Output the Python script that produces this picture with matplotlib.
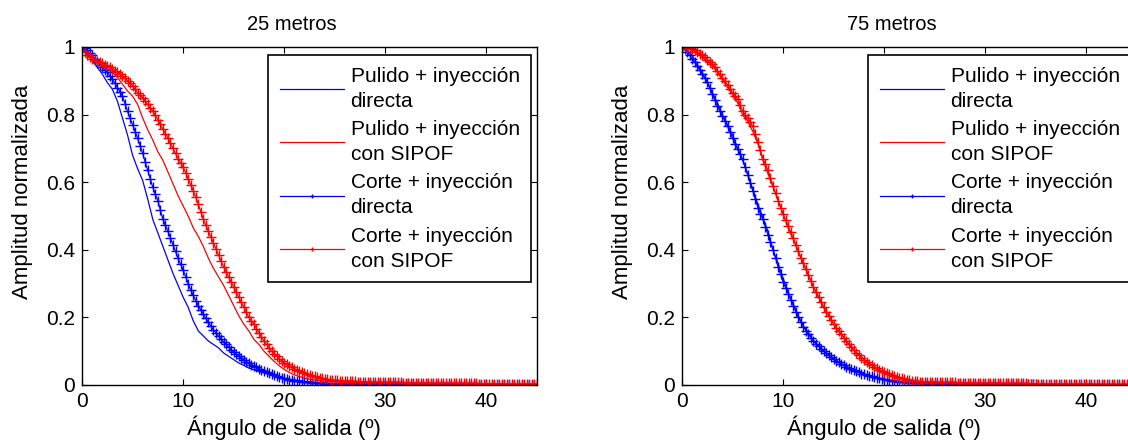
import matplotlib
matplotlib.use("Agg")
import matplotlib.pyplot as plt
import numpy as np

plt.rcParams["font.family"] = ["Liberation Sans", "DejaVu Sans"]

# Angle grids (degrees): polished-end profiles were sampled every 0.5 deg,
# cut-end profiles every 0.25 deg
angulo = np.arange(0, 45.25, 0.5)
angulo_fino = np.arange(0, 45.125, 0.25)

# ── 25 metros ────────────────────────────────────────────────────────────────
pulido_directa_25 = [
    1.000, 0.985, 0.960, 0.940, 0.920, 0.895, 0.875, 0.840, 0.790, 0.740,
    0.680, 0.640, 0.605, 0.550, 0.490, 0.450, 0.410, 0.370, 0.330, 0.295,
    0.260, 0.230, 0.190, 0.160, 0.145, 0.130, 0.120, 0.110, 0.095, 0.085,
    0.075, 0.065, 0.058, 0.050, 0.045, 0.040, 0.036, 0.032, 0.028, 0.024,
    0.020, 0.017, 0.015, 0.013, 0.011, 0.010, 0.008, 0.007, 0.006, 0.005,
    0.005, 0.004, 0.004, 0.004, 0.003, 0.003, 0.003, 0.003, 0.002, 0.002,
    0.002, 0.002, 0.002, 0.002, 0.002, 0.002, 0.002, 0.001, 0.001, 0.001,
    0.001, 0.001, 0.001, 0.001, 0.001, 0.001, 0.001, 0.001, 0.001, 0.001,
    0.001, 0.001, 0.001, 0.001, 0.001, 0.001, 0.001, 0.001, 0.001, 0.001,
    0.001,
]
pulido_sipof_25 = [
    1.000, 0.980, 0.965, 0.955, 0.945, 0.935, 0.925, 0.910, 0.890, 0.870,
    0.855, 0.830, 0.790, 0.755, 0.725, 0.690, 0.665, 0.630, 0.595, 0.560,
    0.530, 0.500, 0.465, 0.440, 0.410, 0.375, 0.345, 0.320, 0.295, 0.265,
    0.235, 0.205, 0.180, 0.160, 0.135, 0.120, 0.100, 0.085, 0.070, 0.057,
    0.046, 0.037, 0.030, 0.025, 0.020, 0.017, 0.015, 0.013, 0.012, 0.011,
    0.010, 0.009, 0.008, 0.008, 0.007, 0.007, 0.006, 0.006, 0.006, 0.005,
    0.005, 0.005, 0.004, 0.004, 0.004, 0.004, 0.003, 0.003, 0.003, 0.003,
    0.003, 0.003, 0.003, 0.002, 0.002, 0.002, 0.002, 0.002, 0.002, 0.002,
    0.002, 0.002, 0.002, 0.002, 0.002, 0.002, 0.002, 0.002, 0.002, 0.002,
    0.002,
]
corte_directa_25 = [
    1.000, 0.996, 0.990, 0.982, 0.975, 0.965, 0.955, 0.948, 0.940, 0.932,
    0.925, 0.915, 0.905, 0.893, 0.880, 0.868, 0.855, 0.832, 0.810, 0.790,
    0.770, 0.750, 0.730, 0.708, 0.685, 0.660, 0.635, 0.610, 0.585, 0.565,
    0.545, 0.518, 0.490, 0.472, 0.455, 0.435, 0.415, 0.395, 0.375, 0.357,
    0.340, 0.320, 0.300, 0.282, 0.265, 0.250, 0.235, 0.222, 0.210, 0.197,
    0.185, 0.174, 0.163, 0.154, 0.145, 0.136, 0.128, 0.120, 0.112, 0.104,
    0.097, 0.091, 0.085, 0.079, 0.074, 0.069, 0.064, 0.060, 0.056, 0.052,
    0.048, 0.044, 0.041, 0.038, 0.035, 0.032, 0.029, 0.026, 0.024, 0.022,
    0.020, 0.018, 0.016, 0.014, 0.013, 0.012, 0.011, 0.010, 0.009, 0.009,
    0.008, 0.007, 0.007, 0.006, 0.006, 0.005, 0.005, 0.004, 0.004, 0.004,
    0.004, 0.004, 0.004, 0.004, 0.004, 0.004, 0.004, 0.003, 0.003, 0.003,
    0.003, 0.003, 0.003, 0.003, 0.003, 0.003, 0.003, 0.003, 0.003, 0.003,
    0.003, 0.002, 0.002, 0.002, 0.002, 0.002, 0.002, 0.002, 0.002, 0.002,
    0.002, 0.002, 0.002, 0.002, 0.002, 0.002, 0.002, 0.002, 0.002, 0.002,
    0.002, 0.001, 0.001, 0.001, 0.001, 0.001, 0.001, 0.001, 0.001, 0.001,
    0.001, 0.001, 0.001, 0.001, 0.001, 0.001, 0.001, 0.001, 0.001, 0.001,
    0.001, 0.001, 0.001, 0.001, 0.001, 0.001, 0.001, 0.001, 0.001, 0.001,
    0.001, 0.001, 0.001, 0.001, 0.001, 0.001, 0.001, 0.001, 0.001, 0.001,
    0.001,
]
corte_sipof_25 = [
    1.000, 0.985, 0.975, 0.970, 0.965, 0.961, 0.958, 0.955, 0.952, 0.948,
    0.945, 0.940, 0.935, 0.930, 0.925, 0.920, 0.915, 0.908, 0.900, 0.893,
    0.885, 0.875, 0.865, 0.858, 0.850, 0.840, 0.830, 0.820, 0.810, 0.798,
    0.785, 0.771, 0.757, 0.744, 0.730, 0.715, 0.700, 0.685, 0.670, 0.658,
    0.645, 0.628, 0.610, 0.593, 0.575, 0.555, 0.535, 0.512, 0.490, 0.472,
    0.455, 0.438, 0.420, 0.402, 0.385, 0.367, 0.350, 0.335, 0.320, 0.305,
    0.290, 0.275, 0.260, 0.245, 0.230, 0.215, 0.200, 0.190, 0.180, 0.167,
    0.155, 0.142, 0.130, 0.120, 0.110, 0.101, 0.093, 0.085, 0.078, 0.072,
    0.066, 0.061, 0.056, 0.052, 0.048, 0.045, 0.042, 0.039, 0.036, 0.033,
    0.030, 0.028, 0.026, 0.024, 0.022, 0.020, 0.019, 0.017, 0.016, 0.015,
    0.014, 0.014, 0.013, 0.013, 0.012, 0.012, 0.011, 0.011, 0.011, 0.010,
    0.010, 0.010, 0.010, 0.009, 0.009, 0.009, 0.009, 0.008, 0.008, 0.008,
    0.008, 0.008, 0.008, 0.008, 0.008, 0.008, 0.008, 0.007, 0.007, 0.007,
    0.007, 0.007, 0.007, 0.007, 0.007, 0.007, 0.007, 0.006, 0.006, 0.006,
    0.006, 0.006, 0.006, 0.006, 0.006, 0.006, 0.006, 0.005, 0.005, 0.005,
    0.005, 0.005, 0.005, 0.005, 0.005, 0.005, 0.005, 0.004, 0.004, 0.004,
    0.004, 0.004, 0.004, 0.004, 0.004, 0.004, 0.004, 0.003, 0.003, 0.003,
    0.003, 0.003, 0.003, 0.003, 0.003, 0.003, 0.003, 0.003, 0.003, 0.003,
    0.003,
]

# ── 75 metros ────────────────────────────────────────────────────────────────
pulido_directa_75 = [
    1.000, 0.990, 0.975, 0.950, 0.925, 0.895, 0.865, 0.835, 0.800, 0.770,
    0.740, 0.700, 0.665, 0.625, 0.580, 0.535, 0.495, 0.455, 0.400, 0.360,
    0.315, 0.275, 0.240, 0.205, 0.175, 0.155, 0.132, 0.117, 0.102, 0.090,
    0.078, 0.068, 0.059, 0.051, 0.044, 0.038, 0.033, 0.028, 0.024, 0.020,
    0.017, 0.014, 0.012, 0.010, 0.008, 0.007, 0.006, 0.005, 0.005, 0.004,
    0.004, 0.003, 0.003, 0.003, 0.003, 0.002, 0.002, 0.002, 0.002, 0.002,
    0.002, 0.002, 0.002, 0.001, 0.001, 0.001, 0.001, 0.001, 0.001, 0.001,
    0.001, 0.001, 0.001, 0.001, 0.001, 0.001, 0.001, 0.001, 0.001, 0.001,
    0.001, 0.001, 0.001, 0.001, 0.001, 0.001, 0.001, 0.001, 0.001, 0.001,
    0.001,
]
pulido_sipof_75 = [
    1.000, 0.998, 0.993, 0.982, 0.970, 0.958, 0.945, 0.925, 0.903, 0.880,
    0.860, 0.835, 0.800, 0.780, 0.750, 0.715, 0.665, 0.625, 0.585, 0.550,
    0.505, 0.465, 0.430, 0.395, 0.360, 0.325, 0.290, 0.262, 0.232, 0.207,
    0.182, 0.160, 0.140, 0.121, 0.104, 0.089, 0.076, 0.064, 0.054, 0.046,
    0.039, 0.033, 0.027, 0.023, 0.019, 0.016, 0.013, 0.011, 0.010, 0.009,
    0.008, 0.007, 0.007, 0.006, 0.006, 0.005, 0.005, 0.005, 0.004, 0.004,
    0.004, 0.004, 0.003, 0.003, 0.003, 0.003, 0.003, 0.003, 0.002, 0.002,
    0.002, 0.002, 0.002, 0.002, 0.002, 0.002, 0.002, 0.002, 0.002, 0.002,
    0.002, 0.002, 0.002, 0.002, 0.002, 0.002, 0.002, 0.002, 0.002, 0.002,
    0.002,
]
corte_directa_75 = [
    1.000, 0.993, 0.985, 0.975, 0.965, 0.955, 0.944, 0.932, 0.920, 0.908,
    0.896, 0.878, 0.860, 0.842, 0.825, 0.810, 0.795, 0.781, 0.766, 0.748,
    0.730, 0.713, 0.697, 0.683, 0.668, 0.644, 0.620, 0.597, 0.575, 0.550,
    0.525, 0.507, 0.490, 0.467, 0.445, 0.422, 0.400, 0.375, 0.350, 0.327,
    0.305, 0.287, 0.270, 0.252, 0.235, 0.217, 0.200, 0.186, 0.172, 0.161,
    0.150, 0.140, 0.130, 0.122, 0.115, 0.107, 0.100, 0.094, 0.088, 0.082,
    0.077, 0.072, 0.067, 0.062, 0.058, 0.054, 0.050, 0.046, 0.043, 0.040,
    0.037, 0.034, 0.032, 0.030, 0.028, 0.026, 0.024, 0.022, 0.020, 0.018,
    0.017, 0.015, 0.014, 0.013, 0.012, 0.011, 0.010, 0.009, 0.008, 0.008,
    0.007, 0.007, 0.006, 0.006, 0.005, 0.005, 0.005, 0.004, 0.004, 0.004,
    0.004, 0.004, 0.004, 0.004, 0.004, 0.004, 0.004, 0.004, 0.004, 0.003,
    0.003, 0.003, 0.003, 0.003, 0.003, 0.003, 0.003, 0.003, 0.003, 0.003,
    0.003, 0.002, 0.002, 0.002, 0.002, 0.002, 0.002, 0.002, 0.002, 0.002,
    0.002, 0.002, 0.002, 0.002, 0.002, 0.002, 0.002, 0.002, 0.002, 0.002,
    0.002, 0.001, 0.001, 0.001, 0.001, 0.001, 0.001, 0.001, 0.001, 0.001,
    0.001, 0.001, 0.001, 0.001, 0.001, 0.001, 0.001, 0.001, 0.001, 0.001,
    0.001, 0.001, 0.001, 0.001, 0.001, 0.001, 0.001, 0.001, 0.001, 0.001,
    0.001, 0.001, 0.001, 0.001, 0.001, 0.001, 0.001, 0.001, 0.001, 0.001,
    0.001,
]
corte_sipof_75 = [
    1.000, 0.999, 0.998, 0.997, 0.995, 0.990, 0.985, 0.980, 0.975, 0.969,
    0.963, 0.957, 0.950, 0.940, 0.930, 0.919, 0.908, 0.898, 0.888, 0.877,
    0.865, 0.856, 0.846, 0.828, 0.810, 0.800, 0.790, 0.778, 0.765, 0.743,
    0.720, 0.695, 0.670, 0.653, 0.635, 0.612, 0.590, 0.567, 0.545, 0.525,
    0.505, 0.487, 0.470, 0.452, 0.435, 0.415, 0.395, 0.377, 0.360, 0.342,
    0.325, 0.307, 0.290, 0.275, 0.260, 0.245, 0.230, 0.217, 0.205, 0.192,
    0.180, 0.170, 0.160, 0.150, 0.140, 0.130, 0.120, 0.111, 0.103, 0.095,
    0.088, 0.081, 0.075, 0.069, 0.063, 0.058, 0.053, 0.049, 0.045, 0.041,
    0.038, 0.035, 0.032, 0.029, 0.026, 0.024, 0.022, 0.020, 0.018, 0.016,
    0.015, 0.013, 0.012, 0.011, 0.010, 0.010, 0.009, 0.009, 0.009, 0.009,
    0.009, 0.008, 0.008, 0.008, 0.008, 0.008, 0.008, 0.008, 0.008, 0.007,
    0.007, 0.007, 0.007, 0.007, 0.007, 0.007, 0.007, 0.006, 0.006, 0.006,
    0.006, 0.006, 0.006, 0.006, 0.006, 0.006, 0.006, 0.005, 0.005, 0.005,
    0.005, 0.005, 0.005, 0.005, 0.005, 0.005, 0.005, 0.004, 0.004, 0.004,
    0.004, 0.004, 0.004, 0.004, 0.004, 0.004, 0.004, 0.004, 0.004, 0.003,
    0.003, 0.003, 0.003, 0.003, 0.003, 0.003, 0.003, 0.003, 0.003, 0.003,
    0.003, 0.003, 0.003, 0.002, 0.002, 0.002, 0.002, 0.002, 0.002, 0.002,
    0.002, 0.002, 0.002, 0.002, 0.002, 0.002, 0.002, 0.002, 0.002, 0.002,
    0.002,
]

titulos = ["25 metros", "75 metros"]
etiquetas = [
    "Pulido + inyección\ndirecta",
    "Pulido + inyección\ncon SIPOF",
    "Corte + inyección\ndirecta",
    "Corte + inyección\ncon SIPOF",
]
yticks = [0, 0.2, 0.4, 0.6, 0.8, 1]
ytick_labels = ["0", "0.2", "0.4", "0.6", "0.8", "1"]
xticks = [0, 10, 20, 30, 40]

paneles = [
    (pulido_directa_25, pulido_sipof_25, corte_directa_25, corte_sipof_25),
    (pulido_directa_75, pulido_sipof_75, corte_directa_75, corte_sipof_75),
]

AZUL = "#0000ff"
ROJO = "#ff0000"
FS_TICK = 15
FS_LABEL = 16
FS_TITLE = 14.5

fig = plt.figure(figsize=(11.28, 4.45), dpi=100)
posiciones = [
    [82 / 1128, 60 / 445, 455 / 1128, 338 / 445],
    [682 / 1128, 60 / 445, 455 / 1128, 338 / 445],
]

for pos, titulo, series in zip(posiciones, titulos, paneles):
    ax = fig.add_axes(pos)
    pd_, ps_, cd_, cs_ = series
    ax.plot(angulo, pd_, color=AZUL, lw=0.9, label=etiquetas[0])
    ax.plot(angulo, ps_, color=ROJO, lw=0.9, label=etiquetas[1])
    ax.plot(angulo_fino, cd_, color=AZUL, lw=0.9, marker="+", ms=6.5,
            mew=1.0, label=etiquetas[2])
    ax.plot(angulo_fino, cs_, color=ROJO, lw=0.9, marker="+", ms=6.5,
            mew=1.0, label=etiquetas[3])

    ax.set_xlim(0, 45)
    ax.set_ylim(0, 1)
    ax.set_xticks(xticks)
    ax.set_yticks(yticks)
    ax.set_yticklabels(ytick_labels)
    ax.tick_params(direction="in", top=True, right=True, length=4,
                   width=0.8, labelsize=FS_TICK, pad=5)
    for sp in ax.spines.values():
        sp.set_linewidth(1.0)

    ax.set_title(titulo, fontsize=FS_TITLE, x=0.462, y=1.05, pad=0)
    ax.set_xlabel("Ángulo de salida (º)", fontsize=FS_LABEL)
    ax.xaxis.set_label_coords(0.444, -0.09)
    ax.set_ylabel("Amplitud normalizada", fontsize=FS_LABEL)
    ax.yaxis.set_label_coords(-0.108, 0.571)

    leg = ax.legend(loc="upper right", bbox_to_anchor=(0.987, 0.976),
                    borderaxespad=0, fontsize=FS_TICK, fancybox=False,
                    framealpha=1, edgecolor="black", handlelength=3.1,
                    handletextpad=0.3, labelspacing=0.45, borderpad=0.55,
                    markerscale=0.4)
    for t in leg.get_texts():
        t.set_linespacing(1.4)
    leg.get_frame().set_linewidth(1.2)

fig.savefig("out.png", dpi=100)
